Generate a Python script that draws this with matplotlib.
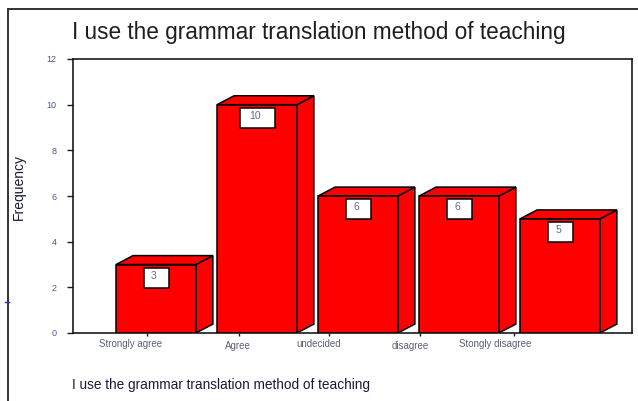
import matplotlib
matplotlib.use("Agg")
import matplotlib.pyplot as plt
from matplotlib.patches import Polygon, Rectangle
from matplotlib.lines import Line2D

categories = ["Strongly agree", "Agree", "undecided", "disagree", "Stongly disagree"]
frequencies = [3, 10, 6, 6, 5]
y_ticks = [0, 2, 4, 6, 8, 10, 12]
title = "I use the grammar translation method of teaching"
x_title = "I use the grammar translation method of teaching"
y_title = "Frequency"

# layout (style) values
W, H = 638, 401
tick_pos = [-0.09, 0.82, 1.71, 2.61, 3.54]
label_pos = [-0.25, 0.81, 1.61, 2.52, 3.36]
label_drop = [0.48, 0.57, 0.48, 0.57, 0.48]
bar_w = 0.79
dx, dy = 0.168, 0.39
px_per_unit = 22.8

plt.rcParams['font.family'] = ['Liberation Sans', 'DejaVu Sans']
fig = plt.figure(figsize=(W / 100, H / 100), dpi=100)
fig.patch.set_facecolor('white')

ax_l, ax_r, ax_t, ax_b = 73, 632, 59, 333
ax = fig.add_axes([ax_l / W, 1 - ax_b / H, (ax_r - ax_l) / W, (ax_b - ax_t) / H])
ax.set_xlim((ax_l - 156) / 101, (ax_r - 156) / 101)
ax.set_ylim(0, 12)

tick_color = '#4b5a8c'
for s in ax.spines.values():
    s.set_linewidth(1.2)
    s.set_color('#1a1a1a')

ax.set_yticks(y_ticks)
ax.set_yticklabels([str(t) for t in y_ticks], fontsize=6.5, color=tick_color)
ax.tick_params(axis='y', direction='out', length=4, width=1, pad=8, colors='#1a1a1a',
               labelcolor=tick_color)
ax.set_xticks(tick_pos)
ax.set_xticklabels([])
ax.tick_params(axis='x', direction='out', length=2.5, width=1, colors='#1a1a1a')

for i, (cat, v) in enumerate(zip(categories, frequencies)):
    x0 = i - bar_w / 2
    x1 = i + bar_w / 2
    # side face
    ax.add_patch(Polygon([(x1, 0), (x1 + dx, dy), (x1 + dx, v + dy), (x1, v)],
                         closed=True, facecolor='#ff0000', edgecolor='black', lw=1.1, zorder=2))
    # top face
    ax.add_patch(Polygon([(x0, v), (x1, v), (x1 + dx, v + dy), (x0 + dx, v + dy)],
                         closed=True, facecolor='#ff0000', edgecolor='black', lw=1.1, zorder=2))
    # front face
    ax.add_patch(Rectangle((x0, 0), bar_w, v, facecolor='#ff0000', edgecolor='black',
                           lw=1.1, zorder=3))
    # value box
    bw = 0.25 if len(str(v)) == 1 else 0.35
    bh = 20 / px_per_unit
    btop = v - 3 / px_per_unit
    ax.add_patch(Rectangle((i + 0.005 - bw / 2, btop - bh), bw, bh, facecolor='white',
                           edgecolor='black', lw=1.1, zorder=4))
    ax.text(i - 0.02, btop - bh / 2 + 0.08, str(v), ha='center', va='center',
            fontsize=7.5, color='#5a6a9a', zorder=5)
    # category label
    ax.text(label_pos[i], -label_drop[i], cat, ha='center', va='center', fontsize=7,
            color='#5a607a', clip_on=False)

# titles
fig.text(72 / W, 1 - 32 / H, title, fontsize=16.3, color='#1e1e1e', ha='left', va='center')
fig.text(72 / W, 1 - 385 / H, x_title, fontsize=9.8, color='#1a1a3a', ha='left', va='center')
fig.text(19 / W, 1 - 187 / H, y_title, fontsize=10, color='#1a1a3a', rotation=90,
         ha='center', va='center')

# outer frame lines (figure pixel coords)
def fline(xs, ys, **kw):
    fig.add_artist(Line2D([x / W for x in xs], [1 - y / H for y in ys], **kw))

fline([8, 8], [9, H], color='#333333', lw=1.4)
fline([8, W], [9, 9], color='#333333', lw=1.4)
fline([5, 9], [302, 302], color='#2030c0', lw=1)

fig.savefig('out.png', dpi=100)
